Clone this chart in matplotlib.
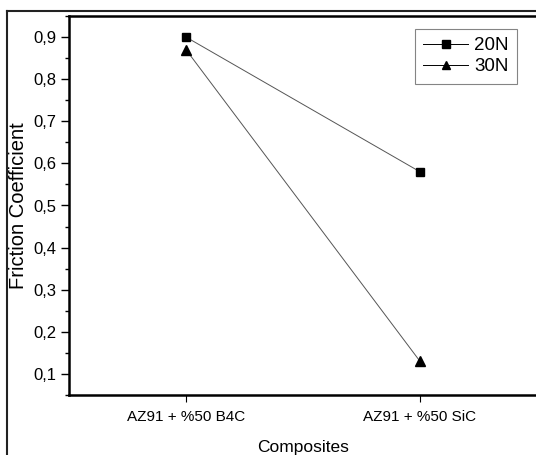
import matplotlib
matplotlib.use('Agg')
import matplotlib.pyplot as plt
from matplotlib.ticker import FuncFormatter, MultipleLocator
from matplotlib.lines import Line2D

plt.rcParams['font.family'] = ['Liberation Sans', 'DejaVu Sans']

composites = ['AZ91 + %50 B4C', 'AZ91 + %50 SiC']
load_20n = [0.90, 0.58]
load_30n = [0.87, 0.13]

fig = plt.figure(figsize=(5.36, 4.55), dpi=100)
ax = fig.add_axes([69 / 536, 60 / 455, 468 / 536, 379 / 455])

xs = range(len(composites))
ax.plot(xs, load_20n, color='#555555', lw=0.7, marker='s', ms=6,
        mfc='black', mec='black', label='20N')
ax.plot(xs, load_30n, color='#555555', lw=0.7, marker='^', ms=7.5,
        mfc='black', mec='black', label='30N')

ax.set_xlim(-0.5, 1.5)
ax.set_ylim(0.05, 0.95)
ax.set_xticks(list(xs))
ax.set_xticklabels(composites, fontsize=11)
ax.yaxis.set_major_locator(MultipleLocator(0.1))
ax.yaxis.set_minor_locator(MultipleLocator(0.05))
ax.yaxis.set_major_formatter(FuncFormatter(lambda v, p: ('%.1f' % v).replace('.', ',')))
ax.tick_params(axis='y', which='major', labelsize=12, length=6, width=1, direction='out', pad=3)
ax.tick_params(axis='y', which='minor', length=3, width=1, direction='out')
ax.tick_params(axis='x', length=5, width=0.8, direction='out', pad=6)

for s in ['left', 'bottom', 'top']:
    ax.spines[s].set_linewidth(1.8)
ax.spines['right'].set_visible(False)

ax.set_ylabel('Friction Coefficient', fontsize=14.5, labelpad=4)
ax.set_xlabel('Composites', fontsize=12.5, labelpad=11)

ax.legend(loc='upper right', bbox_to_anchor=(0.957, 0.966), borderaxespad=0,
          fontsize=13.5, frameon=True, fancybox=False, edgecolor='#666666',
          handlelength=2.4, handletextpad=0.3, borderpad=0.45, labelspacing=0.2)
leg = ax.get_legend()
leg.get_frame().set_linewidth(0.8)
for h in leg.legend_handles:
    h.set_color('black')
    h.set_markersize(6)

# outer frame around the whole picture
fig.add_artist(Line2D([7 / 536, 7 / 536], [0, 1 - 11 / 455], color='#222222', lw=1.5))
fig.add_artist(Line2D([7 / 536, 1], [1 - 11 / 455, 1 - 11 / 455], color='#222222', lw=1.5))

fig.savefig('out.png', dpi=100)
